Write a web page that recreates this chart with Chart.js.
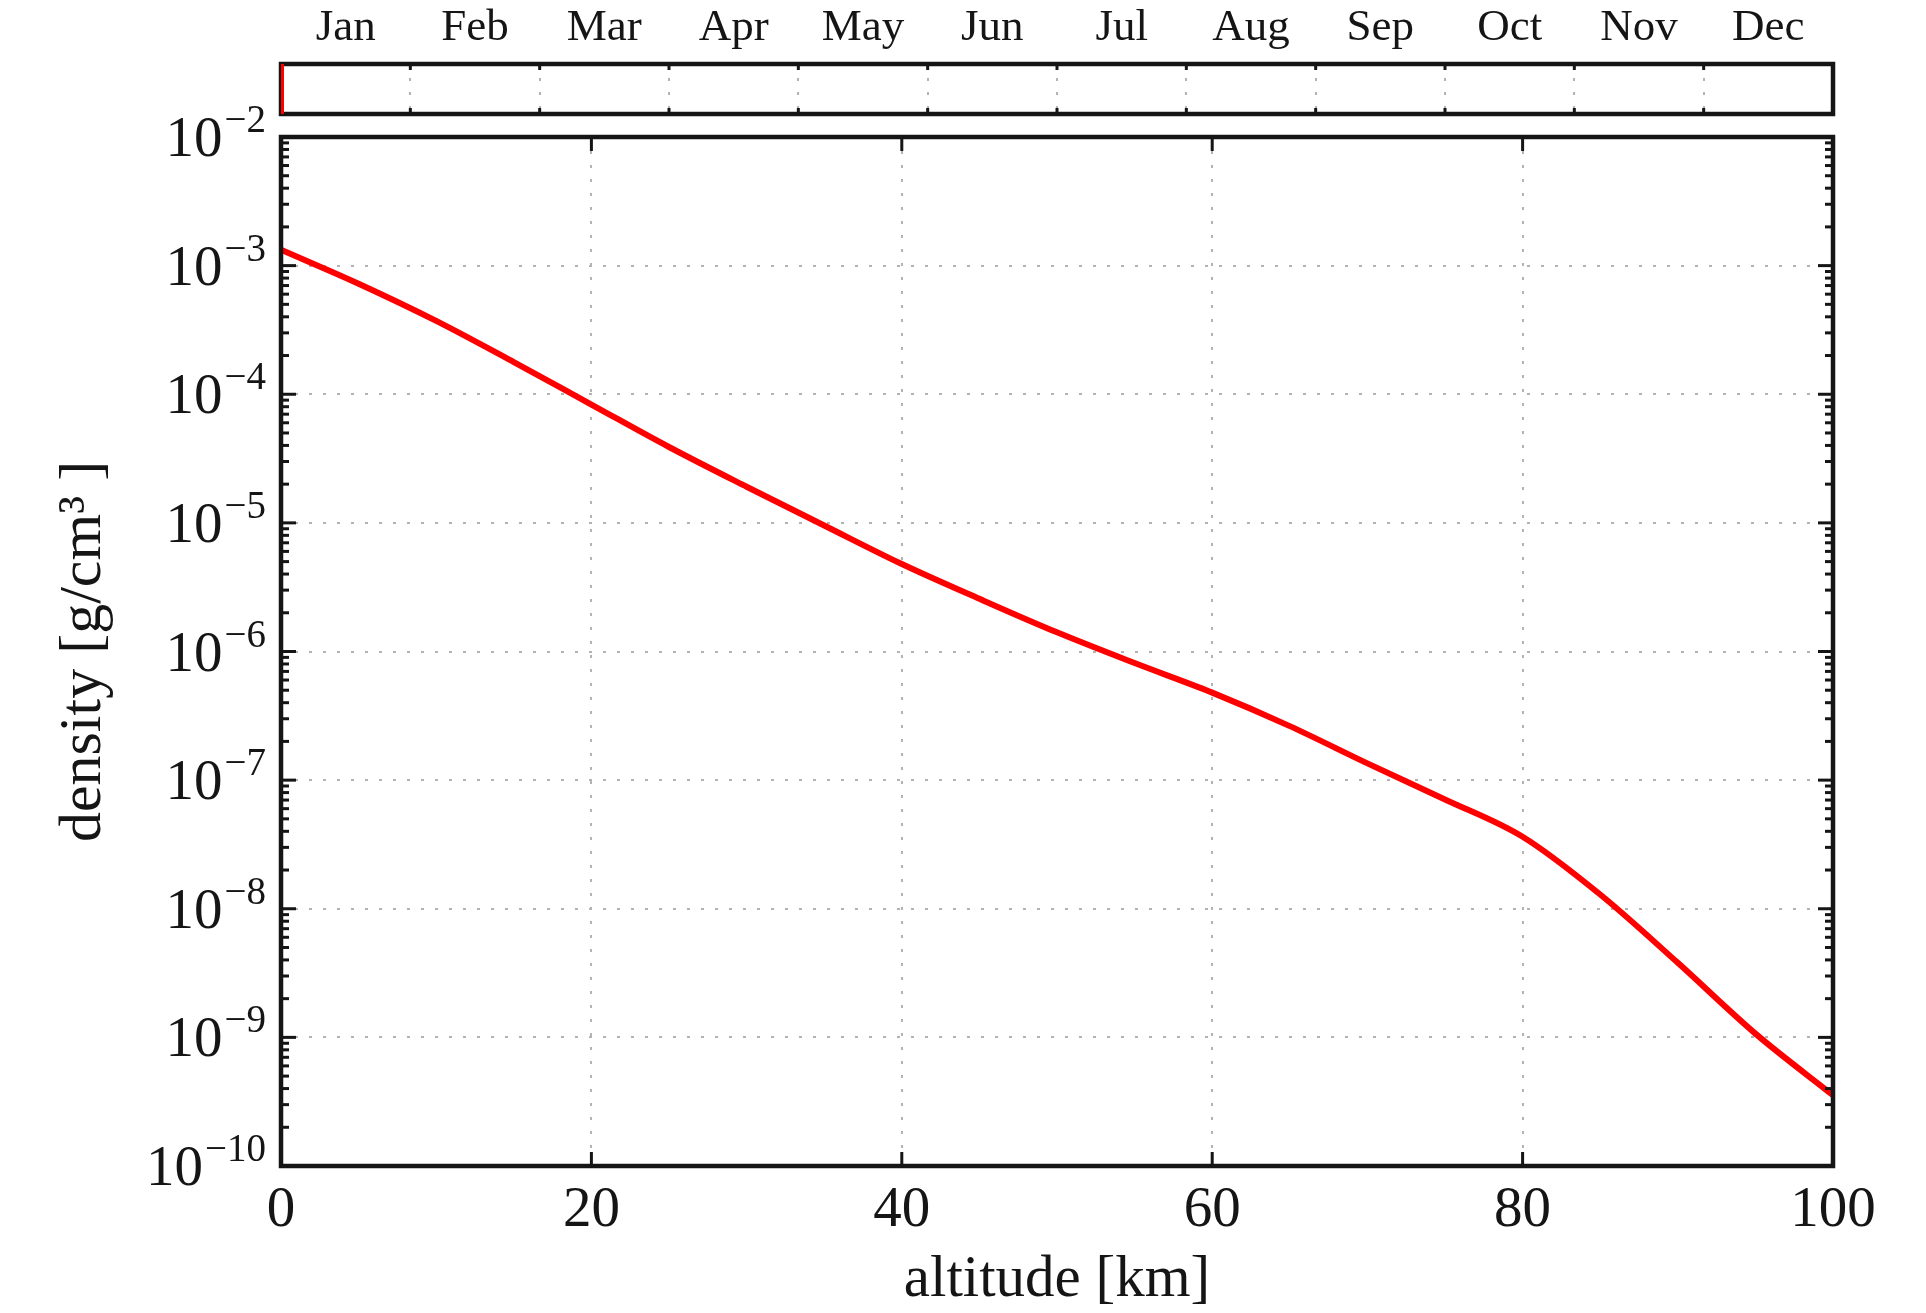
<!DOCTYPE html>
<html>
<head>
<meta charset="utf-8">
<script src="https://cdn.jsdelivr.net/npm/chart.js@4.4.1/dist/chart.umd.min.js"></script>
<style>
    body { margin: 0; background: #fff; }
    #contenedor { position: relative; width: 1926px; height: 1313px; }
    canvas { position: absolute; left: 0; top: 0; }
</style>
</head>
<body>
<div id="contenedor">
    <canvas id="densidad" width="1926" height="1313"></canvas>
    <canvas id="meses" width="1926" height="135"></canvas>
</div>
<script>
// perfil de densidad (km, g/cm3)
const altitud = [0, 5, 10, 15, 20, 25, 30, 35, 40, 45, 50, 55, 60, 65, 70, 75, 80, 85, 90, 95, 100];
const densidad = [1.33e-3, 7.24e-4, 3.72e-4, 1.78e-4, 8.32e-5, 3.89e-5, 1.91e-5, 9.55e-6, 4.79e-6, 2.57e-6,
    1.41e-6, 8.13e-7, 4.79e-7, 2.63e-7, 1.35e-7, 7.08e-8, 3.63e-8, 1.29e-8, 3.80e-9, 1.07e-9, 3.55e-10];
const ticksAltitud = [0, 20, 40, 60, 80, 100];
const decadas = [-10, -9, -8, -7, -6, -5, -4, -3, -2];

// tira de meses
const meses = ['Jan', 'Feb', 'Mar', 'Apr', 'May', 'Jun', 'Jul', 'Aug', 'Sep', 'Oct', 'Nov', 'Dec'];
const limitesMes = [0, 1, 2, 3, 4, 5, 6, 7, 8, 9, 10, 11, 12];
const marcaX = [0, 0];
const marcaY = [0, 1];

const fuente = 'Liberation Serif';
const tinta = '#151515';

function linea(ctx, x1, y1, x2, y2) {
    ctx.beginPath();
    ctx.moveTo(x1, y1);
    ctx.lineTo(x2, y2);
    ctx.stroke();
}

// marco con ticks hacia dentro, estilo matplotlib
function dibujarMarco(chart, opts) {
    const ctx = chart.ctx;
    const a = chart.chartArea;
    const sx = chart.scales.x;
    ctx.save();
    ctx.strokeStyle = tinta;
    ctx.lineWidth = 3;
    sx.ticks.forEach(t => {
        const px = sx.getPixelForValue(t.value);
        linea(ctx, px, a.bottom, px, a.bottom - opts.largoX);
        linea(ctx, px, a.top, px, a.top + opts.largoX);
    });
    if (opts.log) {
        const sy = chart.scales.y;
        for (let k = -10; k < -2; k++) {
            for (let m = 1; m <= 9; m++) {
                const py = sy.getPixelForValue(m * Math.pow(10, k));
                const largo = m === 1 ? 15 : 8;
                linea(ctx, a.left, py, a.left + largo, py);
                linea(ctx, a.right, py, a.right - largo, py);
            }
        }
    }
    ctx.lineWidth = 4.5;
    ctx.strokeRect(a.left, a.top, a.right - a.left, a.bottom - a.top);
    ctx.restore();
}

// etiquetas 10^k con exponente elevado
function etiquetasLog(chart) {
    const ctx = chart.ctx;
    const sy = chart.scales.y;
    ctx.save();
    ctx.fillStyle = tinta;
    ctx.textAlign = 'left';
    ctx.textBaseline = 'alphabetic';
    decadas.forEach(k => {
        const py = sy.getPixelForValue(Math.pow(10, k));
        const exp = '\u2212' + Math.abs(k);
        ctx.font = '39px "' + fuente + '"';
        const we = ctx.measureText(exp).width;
        ctx.font = '57px "' + fuente + '"';
        const wb = ctx.measureText('10').width;
        const derecha = 266;
        ctx.fillText('10', derecha - we - wb - 2, py + 19);
        ctx.font = '39px "' + fuente + '"';
        ctx.fillText(exp, derecha - we, py - 5);
    });
    ctx.restore();
}

const marco = {
    id: 'marco',
    beforeDatasetsDraw(chart, args, opts) {
        if (opts.debajo) dibujarMarco(chart, opts);
    },
    afterDatasetsDraw(chart, args, opts) {
        if (!opts.debajo) dibujarMarco(chart, opts);
    },
    afterDraw(chart, args, opts) {
        if (opts.log) etiquetasLog(chart);
    }
};

const rejilla = { color: '#b3b3b3', lineWidth: 2, drawTicks: false };
const bordePunteado = { display: false, dash: [3, 11] };

new Chart(document.getElementById('densidad'), {
    type: 'line',
    data: {
        datasets: [{
            data: altitud.map((a, i) => ({ x: a, y: densidad[i] })),
            borderColor: '#ff0000',
            borderWidth: 6,
            pointRadius: 0,
            cubicInterpolationMode: 'monotone',
            fill: false
        }]
    },
    options: {
        responsive: false,
        animation: false,
        devicePixelRatio: 1,
        layout: { padding: { left: 0, top: 137, right: 93, bottom: 0 } },
        plugins: {
            legend: { display: false },
            tooltip: { enabled: false },
            marco: { log: true, largoX: 14, debajo: false }
        },
        scales: {
            x: {
                type: 'linear',
                min: 0,
                max: 100,
                afterBuildTicks: s => { s.ticks = ticksAltitud.map(v => ({ value: v })); },
                afterFit: s => { s.height = 147; },
                grid: rejilla,
                border: bordePunteado,
                ticks: { padding: 11, color: tinta, maxRotation: 0, font: { family: fuente, size: 57 } },
                title: {
                    display: true,
                    text: 'altitude [km]',
                    color: tinta,
                    font: { family: fuente, size: 59, lineHeight: 1 },
                    padding: { top: 0, bottom: 3 }
                }
            },
            y: {
                type: 'logarithmic',
                min: 1e-10,
                max: 1e-2,
                afterBuildTicks: s => { s.ticks = decadas.map(k => ({ value: Math.pow(10, k) })); },
                afterFit: s => { s.width = 281; },
                grid: rejilla,
                border: bordePunteado,
                ticks: { display: false },
                title: {
                    display: true,
                    text: 'density [g/cm\u00b3 ]',
                    color: tinta,
                    font: { family: fuente, size: 60, lineHeight: 1 },
                    padding: { top: 54, bottom: 0 }
                }
            }
        }
    },
    plugins: [marco]
});

new Chart(document.getElementById('meses'), {
    type: 'line',
    data: {
        datasets: [{
            data: marcaX.map((x, i) => ({ x: x, y: marcaY[i] })),
            borderColor: '#ff0000',
            borderWidth: 6,
            pointRadius: 0,
            xAxisID: 'x',
            yAxisID: 'y'
        }]
    },
    options: {
        responsive: false,
        animation: false,
        devicePixelRatio: 1,
        layout: { padding: { left: 281, top: 0, right: 93, bottom: 21 } },
        plugins: {
            legend: { display: false },
            tooltip: { enabled: false },
            marco: { log: false, largoX: 6, debajo: true }
        },
        scales: {
            x: {
                type: 'linear',
                min: 0,
                max: 12,
                position: 'bottom',
                afterBuildTicks: s => { s.ticks = limitesMes.map(v => ({ value: v })); },
                afterFit: s => { s.height = 0; },
                grid: rejilla,
                border: bordePunteado,
                ticks: { display: false }
            },
            xMes: {
                type: 'linear',
                min: 0,
                max: 12,
                position: 'top',
                afterBuildTicks: s => { s.ticks = meses.map((m, i) => ({ value: i + 0.5 })); },
                afterFit: s => { s.height = 64; },
                grid: { display: false },
                border: { display: false },
                ticks: {
                    padding: 1,
                    autoSkip: false,
                    maxRotation: 0,
                    color: tinta,
                    font: { family: fuente, size: 45 },
                    callback: v => meses[Math.floor(v)]
                }
            },
            y: { min: 0, max: 1, display: false }
        }
    },
    plugins: [marco]
});
</script>
</body>
</html>
